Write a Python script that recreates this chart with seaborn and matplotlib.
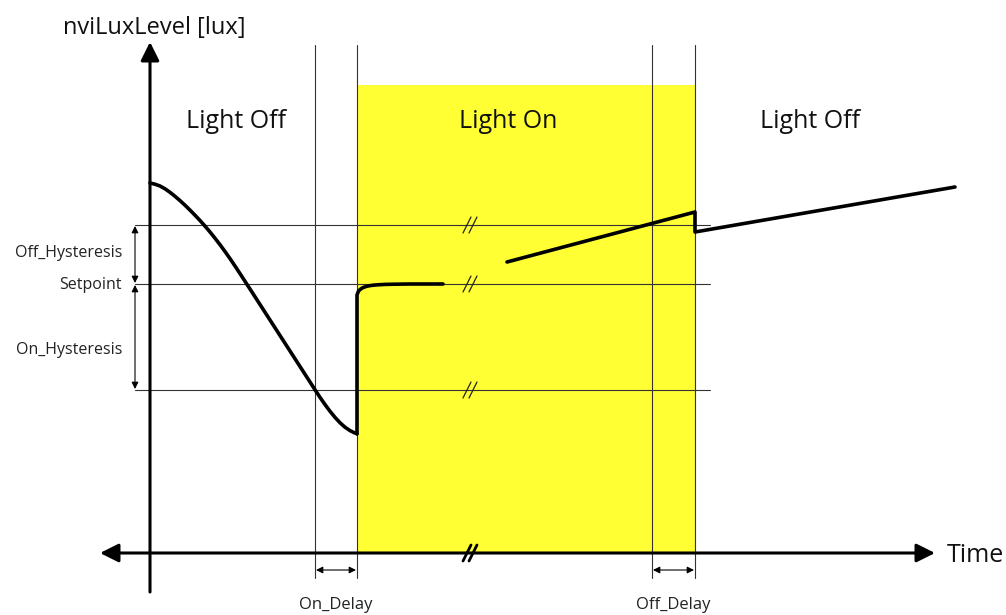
import matplotlib
matplotlib.use("Agg")
import matplotlib.pyplot as plt
import seaborn as sns
import pandas as pd

sns.set_theme(style="white")
plt.rcParams["font.family"] = ["Open Sans", "DejaVu Sans"]

# ── Diagram data (time in px-like units, lux level inverted: smaller = brighter) ──
levels = {"off": 225, "setpoint": 284, "on": 390}
level_labels = ["Off_Hysteresis", "Setpoint", "On_Hysteresis"]
label_y = [253, 285, 350]

t_on_start, t_on_end = 315, 357      # on delay
t_off_start, t_off_end = 652, 695    # off delay
t_break = 470

# falling lux before switching on
t_fall = [150, 155, 160, 165, 170, 175, 180, 185, 190, 195, 200, 205, 210, 215, 220,
          225, 230, 235, 240, 245, 250, 255, 260, 265, 270, 275, 280, 285, 290, 295,
          300, 305, 310, 315, 320, 325, 330, 335, 340, 345, 350, 354, 357]
lux_fall = [183, 184.2, 186.0, 188.8, 192.3, 196.3, 200.6, 205.2, 210.1, 215.2, 220.5,
            226.1, 232.0, 238.2, 244.7, 251.5, 258.6, 266.0, 273.6, 281.3, 289.0,
            296.75, 304.5, 312.25, 320.0, 327.75, 335.5, 343.25, 351.0, 358.75, 366.5,
            374.25, 382.0, 389.75, 397.35, 404.55, 411.25, 417.35, 422.75, 427.2,
            430.6, 432.6, 433.8]
# jump when light switches on, settling at setpoint
t_rise = [357, 357, 358, 359, 361, 363, 366, 369, 373, 378, 385, 395, 410, 443]
lux_rise = [433.8, 295, 292.3, 290.5, 288.8, 287.6, 286.5, 285.8, 285.2, 284.8, 284.4,
            284.2, 284, 284]
# slow increase after the time break
t_day = [507, 695, 695, 955]
lux_day = [262, 212, 232, 187]

phases = ["Light Off", "Light On", "Light Off"]
phase_x = [236, 508, 810]

fig = plt.figure(figsize=(10.06, 6.15), dpi=100)
ax = fig.add_axes([0, 0, 1, 1])
ax.set_xlim(0, 1006)
ax.set_ylim(615, 0)
ax.axis("off")

# yellow "light on" band
ax.axvspan(t_on_end, t_off_end, ymin=(615 - 553) / 615, ymax=(615 - 85) / 615,
           color="#ffff33", lw=0, zorder=0)

# thin vertical markers
for t in [t_on_start, t_on_end, t_off_start, t_off_end]:
    ax.plot([t, t], [45, 578], color="#333333", lw=0.8, zorder=1)

# threshold lines with break marks
for y in levels.values():
    ax.plot([135, 710], [y, y], color="#333333", lw=0.8, zorder=1)
    for dx in (-3, 3):
        ax.plot([t_break - 4 + dx, t_break + 4 + dx], [y + 8, y - 8],
                color="#222222", lw=0.9, zorder=3)

# hysteresis dimension arrows
ys = list(levels.values())
for a, b in [(ys[0], ys[1]), (ys[1], ys[2])]:
    ax.annotate("", xy=(135, a + 1), xytext=(135, b - 1),
                arrowprops=dict(arrowstyle="<|-|>", color="black", lw=0.8,
                                mutation_scale=10, shrinkA=0, shrinkB=0))
for lab, y in zip(level_labels, label_y):
    ax.text(122, y, lab, fontsize=11.5, ha="right", va="center", color="#222222")

# axes with arrows
ax.annotate("", xy=(150, 42), xytext=(150, 592),
            arrowprops=dict(arrowstyle="-|>", color="black", lw=2.2,
                            mutation_scale=28, shrinkA=0, shrinkB=0))
ax.annotate("", xy=(100, 553), xytext=(935, 553),
            arrowprops=dict(arrowstyle="<|-|>", color="black", lw=2.2,
                            mutation_scale=28, shrinkA=0, shrinkB=0))
for dx in (-3, 3):
    ax.plot([t_break - 4 + dx, t_break + 4 + dx], [561, 545],
            color="black", lw=2.0, zorder=3)
ax.text(63, 28, "nviLuxLevel [lux]", fontsize=17, ha="left", va="center", color="#111111")
ax.text(947, 556, "Time", fontsize=18, ha="left", va="center", color="#111111")

# delay arrows
for (a, b), lab in [((t_on_start, t_on_end), "On_Delay"), ((t_off_start, t_off_end), "Off_Delay")]:
    ax.annotate("", xy=(a + 1, 570), xytext=(b - 1, 570),
                arrowprops=dict(arrowstyle="<|-|>", color="black", lw=0.8,
                                mutation_scale=10, shrinkA=0, shrinkB=0))
    ax.text((a + b) / 2, 605, lab, fontsize=12, ha="center", va="center", color="#222222")

# phase labels
for lab, x in zip(phases, phase_x):
    ax.text(x, 121, lab, fontsize=18, ha="center", va="center", color="#111111")

# lux curve
for t, lux in [(t_fall, lux_fall), (t_rise, lux_rise), (t_day, lux_day)]:
    df = pd.DataFrame({"t": t, "lux": lux})
    sns.lineplot(data=df, x="t", y="lux", sort=False, estimator=None, ax=ax,
                 color="black", lw=2.6, zorder=4)

ax.set_xlim(0, 1006)
ax.set_ylim(615, 0)
ax.axis("off")
fig.savefig("out.png", dpi=100)
